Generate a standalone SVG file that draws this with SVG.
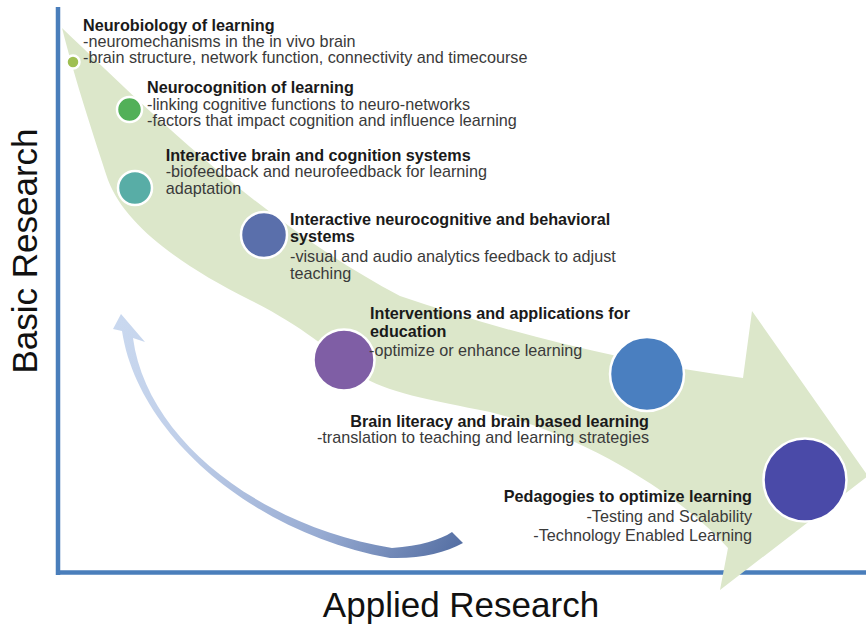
<svg xmlns="http://www.w3.org/2000/svg" width="866" height="628" viewBox="0 0 866 628">
<defs>
<linearGradient id="blueArrow" gradientUnits="userSpaceOnUse" x1="460" y1="545" x2="120" y2="320">
<stop offset="0" stop-color="#5670a4"/>
<stop offset="0.3" stop-color="#97abd2"/>
<stop offset="0.7" stop-color="#c0cfe9"/>
<stop offset="1" stop-color="#c9d8ef"/>
</linearGradient>
<style>
.t{font-family:"Liberation Sans",Arial,sans-serif;font-size:16.2px;font-weight:bold;fill:#1a1a1a}
.b{font-family:"Liberation Sans",Arial,sans-serif;font-size:16.2px;fill:#3a3a3a}
.ax{font-family:"Liberation Sans",Arial,sans-serif;font-size:35px;fill:#111}
.dot{stroke:#ffffff;stroke-width:2.5}
.axis{stroke:#4a7ebb;stroke-width:4.5;fill:none}
</style>
</defs>
<rect width="866" height="628" fill="#ffffff"/>
<g id="axes">
<line class="axis" x1="58" y1="7" x2="58" y2="575"/>
<line class="axis" x1="56" y1="572.5" x2="866" y2="572.5"/>
<text class="ax" transform="translate(37,251) rotate(-90)" text-anchor="middle">Basic Research</text>
<text class="ax" x="461" y="617" text-anchor="middle">Applied Research</text>
</g>
<g id="connectors">
<path id="big-arrow" fill="#dce7ca" d="M62,28 C150,112 265,225 400,296 C500,330 620,362 743,378 L752,311 L868,476 L720,590 L728,548 C690,505 600,440 490,412 C430,400 385,392 360,375 C330,350 300,325 250,300 C180,265 125,225 108,180 C95,140 75,80 62,28 Z"/>
<path id="feedback-arrow" fill="url(#blueArrow)" d="M121,314 L145,342 L133,338 C146,438 258,526 392,548 C420,546 440,540 452,532 L463,543 C445,553 420,559 390,558 C255,534 138,436 122,331 L113,329 Z"/>
</g>
<g id="node-neurobiology">
<circle class="dot" cx="73" cy="62" r="6.5" fill="#9fbf52"/>
<text class="t" x="83" y="30.5">Neurobiology of learning</text>
<text class="b" x="83" y="46.8">-neuromechanisms in the in vivo brain</text>
<text class="b" x="83" y="63.3">-brain structure, network function, connectivity and timecourse</text>
</g>
<g id="node-neurocognition">
<circle class="dot" cx="129.5" cy="109.5" r="12.5" fill="#52b058"/>
<text class="t" x="147" y="93.3">Neurocognition of learning</text>
<text class="b" x="147" y="110">-linking cognitive functions to neuro-networks</text>
<text class="b" x="147" y="126.3">-factors that impact cognition and influence learning</text>
</g>
<g id="node-interactive-brain">
<circle class="dot" cx="135" cy="188" r="17" fill="#58ada6"/>
<text class="t" x="165.7" y="160.5">Interactive brain and cognition systems</text>
<text class="b" x="165.7" y="177.1">-biofeedback and neurofeedback for learning</text>
<text class="b" x="165.7" y="193.5">adaptation</text>
</g>
<g id="node-interactive-neurocognitive">
<circle class="dot" cx="264" cy="235" r="23" fill="#5a6fab"/>
<text class="t" x="290" y="224.5">Interactive neurocognitive and behavioral</text>
<text class="t" x="290" y="241.7">systems</text>
<text class="b" x="290" y="262.2">-visual and audio analytics feedback to adjust</text>
<text class="b" x="290" y="278.8">teaching</text>
</g>
<g id="node-interventions">
<circle class="dot" cx="344" cy="360" r="30.5" fill="#7f5ea5"/>
<text class="t" x="370" y="319.3">Interventions and applications for</text>
<text class="t" x="370" y="336.7">education</text>
<text class="b" x="369" y="356">-optimize or enhance learning</text>
</g>
<g id="node-brain-literacy">
<circle class="dot" cx="647" cy="374" r="37" fill="#4a7fc0"/>
<text class="t" x="649" y="426.5" text-anchor="end">Brain literacy and brain based learning</text>
<text class="b" x="649" y="443" text-anchor="end">-translation to teaching and learning strategies</text>
</g>
<g id="node-pedagogies">
<circle class="dot" cx="805" cy="480" r="41.5" fill="#4a4aa8"/>
<text class="t" x="752" y="501.7" text-anchor="end">Pedagogies to optimize learning</text>
<text class="b" x="752" y="522" text-anchor="end">-Testing and Scalability</text>
<text class="b" x="752" y="541" text-anchor="end">-Technology Enabled Learning</text>
</g>
</svg>
